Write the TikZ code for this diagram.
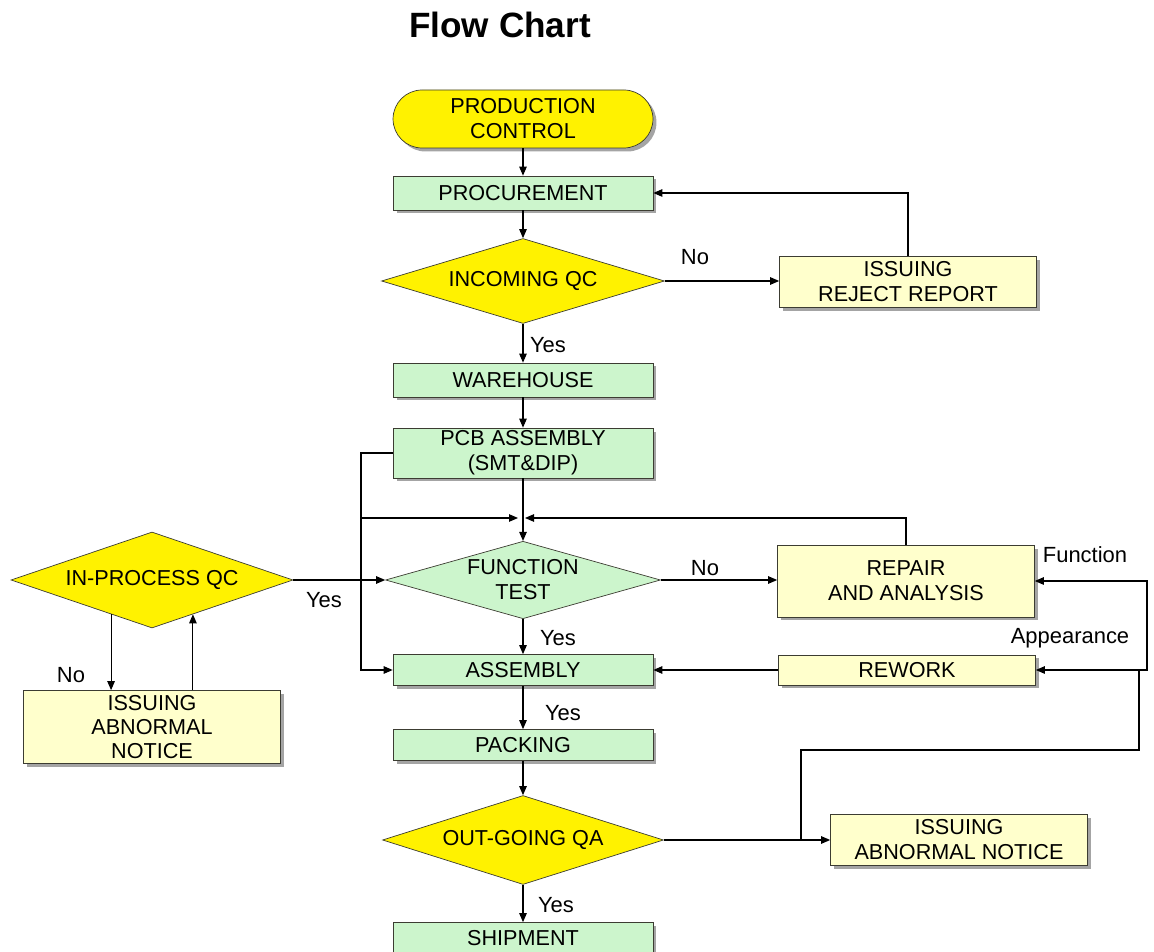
\documentclass[tikz,border=0pt]{standalone}
\usepackage{fontspec}
\setmainfont{Liberation Sans}
\usetikzlibrary{shapes.geometric,arrows.meta,shadows}

\definecolor{qcyellow}{RGB}{255,242,0}
\definecolor{stepgreen}{RGB}{204,245,204}
\definecolor{notepale}{RGB}{255,255,204}
\definecolor{edgegray}{RGB}{60,60,50}

\tikzset{
  boxtxt/.style={font=\fontsize{12.3}{14.2}\selectfont, align=center},
  shade/.style={drop shadow={shadow xshift=0.07cm, shadow yshift=-0.07cm, fill=black!55, opacity=0.65}},
  greenbox/.style={boxtxt, draw=edgegray, fill=stepgreen, shade, minimum width=5.2cm, minimum height=0.68cm, inner sep=1pt},
  palebox/.style={boxtxt, draw=edgegray, fill=notepale, shade, minimum width=5.14cm, inner sep=1pt},
  decide/.style={boxtxt, diamond, aspect=3, inner sep=0pt, draw=edgegray},
  lbl/.style={font=\fontsize{12.5}{14}\selectfont},
  arr/.style={-{Triangle[length=0.18cm,width=0.15cm]}, line width=0.6pt},
}

\begin{document}
\begin{tikzpicture}[x=0.02cm, y=-0.02cm]
\useasboundingbox (0,0) rectangle (1154,952);

	\node (T0) at (500,25) {\fontsize{20}{24}\selectfont\bfseries Flow Chart};

	\node[boxtxt, draw=edgegray, fill=qcyellow, rounded corners=0.58cm, minimum width=5.2cm, minimum height=1.16cm, shade] (PC) at (523,119) {PRODUCTION\\CONTROL};
	\node[greenbox] (PR) at (523,193) {PROCUREMENT};
	\node[decide, fill=qcyellow, minimum width=5.66cm, minimum height=1.7cm] (IQ) at (523,281) {INCOMING QC};
	\node[palebox, minimum height=1.02cm] (RR) at (908,282) {ISSUING\\REJECT REPORT};
	\node[greenbox] (WH) at (523,380) {WAREHOUSE};
	\node[greenbox, minimum height=1.0cm] (PCB) at (523,453) {PCB ASSEMBLY\\(SMT\&DIP)};
	\node[decide, fill=stepgreen, minimum width=5.5cm, minimum height=1.52cm] (FT) at (523,580) {FUNCTION\\TEST};
	\node[palebox, minimum height=1.44cm] (RA) at (906,581) {REPAIR\\AND ANALYSIS};
	\node[palebox, minimum height=0.6cm] (RW) at (907,670) {REWORK};
	\node[greenbox, minimum height=0.62cm] (AS) at (523,670) {ASSEMBLY};
	\node[greenbox, minimum height=0.62cm] (PK) at (523,745) {PACKING};
	\node[decide, fill=qcyellow, minimum width=5.62cm, minimum height=1.78cm] (OQ) at (523,840) {OUT-GOING QA};
	\node[palebox, minimum height=1.02cm] (AN2) at (959,840) {ISSUING\\ABNORMAL NOTICE};
	\node[greenbox, minimum height=0.62cm] (SH) at (523,938) {SHIPMENT};

	\node[decide, fill=qcyellow, minimum width=5.64cm, minimum height=1.92cm] (IP) at (152,580) {IN-PROCESS QC};
	\node[palebox, minimum height=1.46cm, font=\fontsize{12.3}{13.6}\selectfont] (AN1) at (152,727) {ISSUING\\ABNORMAL\\NOTICE};

	\node[lbl] (L1) at (695,257) {No};
	\node[lbl] (L2) at (548,345) {Yes};
	\node[lbl] (L3) at (705,568) {No};
	\node[lbl] (L4) at (558,638) {Yes};
	\node[lbl] (L5) at (563,713) {Yes};
	\node[lbl] (L6) at (556,905) {Yes};
	\node[lbl] (L7) at (324,600) {Yes};
	\node[lbl] (L8) at (71,675) {No};
	\node[lbl] (L9) at (1085,555) {Function};
	\node[lbl] (L10) at (1070,638) {Appearance};

	\coordinate (J0) at (361,518);
	\coordinate (J1) at (523,518);
	\coordinate (K0) at (801,840);
	\coordinate (K1) at (1139,750);
	\coordinate (K2) at (1147,670);

	\draw[arr] (PC.south) -- (PR.north);
	\draw[arr] (PR.south) -- (IQ.north);
	\draw[arr] (IQ.east) -- (IQ.east -| RR.west);
	\draw[arr] (RR.north) |- (PR.east);
	\draw[arr] (IQ.south) -- (WH.north);
	\draw[arr] (WH.south) -- (PCB.north);
	\draw[arr] (PCB.south) -- (FT.north);
	\draw[arr, shorten >=0.1cm] (J0) -- (J1);
	\draw[arr, shorten >=0.04cm] (RA.north) |- (J1);
	\draw[arr] (PCB.west) -- (J0 |- PCB.west) |- (AS.west);

	\draw[arr] (IP.east) -- (FT.west);
	\draw[arr] (FT.east) -- (FT.east -| RA.west);
	\draw[arr] (FT.south) -- (AS.north);
	\draw[arr] (RW.west) -- (AS.east);
	\draw[arr] (AS.south) -- (PK.north);
	\draw[arr] (PK.south) -- (OQ.north);
	\draw[arr] (OQ.south) -- (SH.north);
	\draw[arr] (OQ.east) -- (AN2.west);

	% rework / repair loop
	\draw[arr] (K0) |- (K1) |- (RW.east);
	\draw[arr] (K1 |- RW.east) -- (K2) |- (RA.east);

	\draw[arr] (IP.220) -- (IP.220 |- AN1.north);
	\draw[arr] (IP.-40 |- AN1.north) -- (IP.-40);

\end{tikzpicture}
\end{document}
